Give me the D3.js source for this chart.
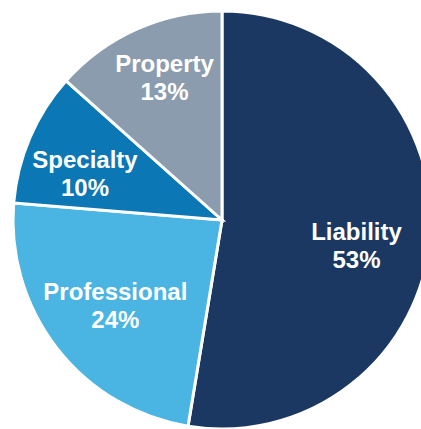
<!DOCTYPE html>
<html><head><meta charset="utf-8">
<script src="https://cdn.jsdelivr.net/npm/d3@7"></script>
<style>html,body{margin:0;padding:0;background:#fff;overflow:hidden}</style>
</head><body>
<svg id="chart" width="421" height="429"></svg>
<script>
const categories = ["Liability", "Professional", "Specialty", "Property"];
const values = [52.6, 23.7, 10.3, 13.4];
const colors = ["#1a3862", "#4ab4e2", "#0b77b4", "#8a9cad"];
// label placement tweaks relative to arc centroid (px)
const labelNudge = [[-13, 13], [10, -6], [-1, 11], [3, -8]];

const svg = d3.select("#chart");
const cx = 222, cy = 220, r = 209, labelR = 148;
const g = svg.append("g").attr("transform", `translate(${cx},${cy})`);

const data = categories.map((c, i) => ({ name: c, value: values[i], color: colors[i], nudge: labelNudge[i] }));
const pie = d3.pie().value(d => d.value).sort(null);
const arc = d3.arc().innerRadius(0).outerRadius(r);
const labelArc = d3.arc().innerRadius(labelR).outerRadius(labelR);

const arcs = pie(data);
g.selectAll("path").data(arcs).join("path")
  .attr("d", arc)
  .attr("fill", d => d.data.color)
  .attr("stroke", "#fff")
  .attr("stroke-width", 3)
  .attr("stroke-linejoin", "miter");

const total = d3.sum(values);
const lbl = g.selectAll("text").data(arcs).join("text")
  .attr("transform", d => {
    const [x, y] = labelArc.centroid(d);
    return `translate(${x + d.data.nudge[0]},${y + d.data.nudge[1]})`;
  })
  .attr("text-anchor", "middle")
  .attr("fill", "#fff")
  .style("font-family", "'Liberation Sans', Arial, sans-serif")
  .style("font-weight", "bold")
  .style("font-size", "24px");
lbl.append("tspan").attr("x", 0).attr("y", -5).text(d => d.data.name);
lbl.append("tspan").attr("x", 0).attr("y", 23).text(d => Math.round(d.data.value / total * 100) + "%");
</script>
</body></html>
